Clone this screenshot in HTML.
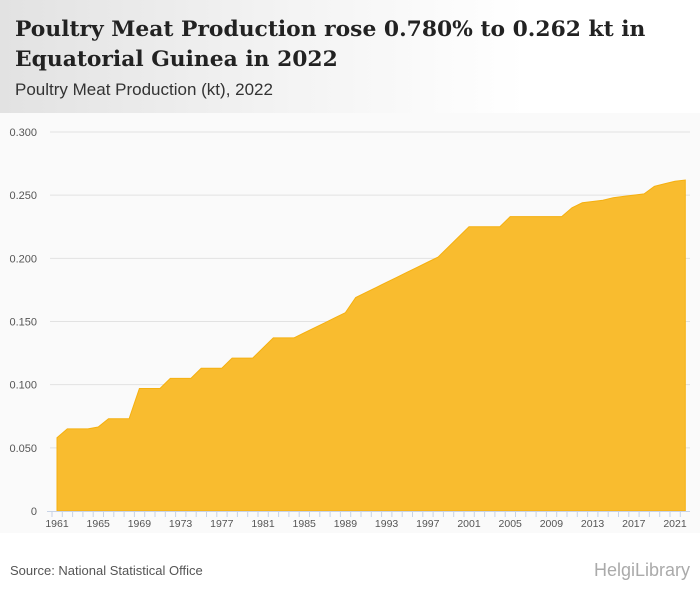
<!DOCTYPE html>
<html><head><meta charset="utf-8"><style>
body{margin:0;width:700px;height:596px;overflow:hidden;background:#fff;font-family:"Liberation Sans",sans-serif}
#hdr{position:absolute;left:0;top:0;width:700px;height:113px;background:linear-gradient(90deg,#e2e2e2 0%,#f3f3f3 40%,#fff 75%)}
#title{position:absolute;left:15px;top:15px;font:bold 21.8px/30px "DejaVu Serif","Liberation Serif",serif;color:#222;white-space:nowrap}
#sub{position:absolute;left:15px;top:80px;font-size:17px;color:#333}
#src{position:absolute;left:10px;top:563px;font-size:13px;color:#555}
#logo{position:absolute;right:10px;top:560px;font-size:18px;color:#aaa}
</style></head><body>
<div id="hdr"></div>
<div id="title">Poultry Meat Production rose 0.780% to 0.262 kt in<br>Equatorial Guinea in 2022</div>
<div id="sub">Poultry Meat Production (kt), 2022</div>
<svg id="ch" width="700" height="596" style="position:absolute;left:0;top:0"></svg>
<div id="src">Source: National Statistical Office</div>
<div id="logo">HelgiLibrary</div>
<script>
const years=[];for(let y=1961;y<=2022;y++)years.push(y);
const values=[0.058,0.065,0.065,0.065,0.0665,0.073,0.073,0.073,0.097,0.097,0.097,0.105,0.105,0.105,0.113,0.113,0.113,0.121,0.121,0.121,0.129,0.137,0.137,0.137,0.141,0.145,0.149,0.153,0.157,0.169,0.173,0.177,0.181,0.185,0.189,0.193,0.197,0.201,0.209,0.217,0.225,0.225,0.225,0.225,0.233,0.233,0.233,0.233,0.233,0.233,0.240,0.244,0.245,0.246,0.248,0.249,0.250,0.251,0.257,0.259,0.261,0.262];
const yTicks=[0,0.05,0.1,0.15,0.2,0.25,0.3];
const yLabels=["0","0.050","0.100","0.150","0.200","0.250","0.300"];
const xLabels=[1961,1965,1969,1973,1977,1981,1985,1989,1993,1997,2001,2005,2009,2013,2017,2021];
const svg=document.getElementById('ch');const NS='http://www.w3.org/2000/svg';
const X=y=>57+(y-1961)*10.3, Y=v=>511-v/0.3*379;
function mk(t,a){const e=document.createElementNS(NS,t);for(const k in a)e.setAttribute(k,a[k]);svg.appendChild(e);return e;}
const bg=mk('rect',{x:0,y:113,width:700,height:420,fill:'#fafafa'});


yTicks.forEach((t,i)=>{
 if(t>0){const g=mk('line',{x1:50,x2:690,y1:Y(t),y2:Y(t),stroke:'#e2e2e2'});
 
 }
 const l=mk('text',{x:37,y:Y(t)+4,'text-anchor':'end','font-size':11,fill:'#555','font-family':'Liberation Sans'});l.textContent=yLabels[i];
 
 
});
let d='M'+X(years[0])+','+Y(0);
years.forEach((y,i)=>d+=' L'+X(y)+','+Y(values[i]));
d+=' L'+X(years[years.length-1])+','+Y(0)+'Z';
const a=mk('path',{d:d,fill:'#f9bc2f',stroke:'#f5b010','stroke-width':1});


const ax=mk('line',{x1:47,x2:690,y1:511.5,y2:511.5,stroke:'#c8d3e6'});


years.forEach(y=>{const t=mk('line',{x1:X(y)-5,x2:X(y)-5,y1:511,y2:517,stroke:'#c8d3e6'});
 
 });
xLabels.forEach(y=>{const l=mk('text',{x:X(y),y:527,'text-anchor':'middle','font-size':10.5,fill:'#555','font-family':'Liberation Sans'});l.textContent=y;
 
 });
</script>
</body></html>
